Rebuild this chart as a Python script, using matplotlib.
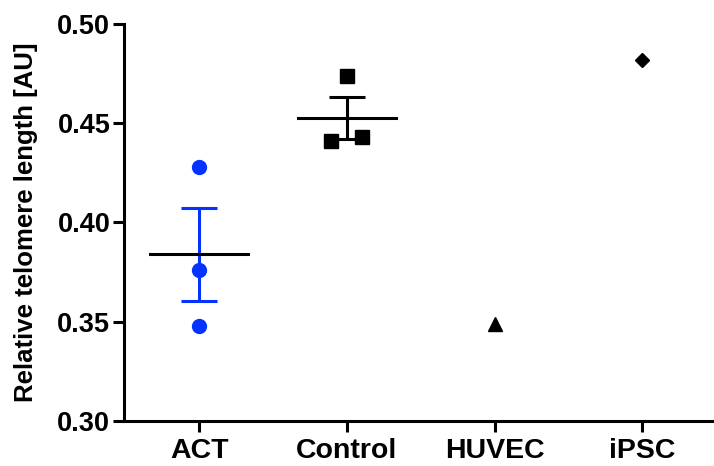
import numpy as np
import matplotlib.pyplot as plt

plt.rcParams['font.family'] = ['Liberation Sans', 'DejaVu Sans']
plt.rcParams['font.weight'] = 'bold'

# Data
groups = ['ACT', 'Control', 'HUVEC', 'iPSC']
act = [0.428, 0.376, 0.348]
control = [0.474, 0.441, 0.443]
huvec = [0.349]
ipsc = [0.482]
control_jitter = [0.0, -0.11, 0.10]

blue = '#0433FF'

fig = plt.figure(figsize=(7.14, 4.66), dpi=100)
ax = fig.add_axes([0.174, 0.0966, 0.823, 0.852])

# ACT
ax.plot([0] * len(act), act, 'o', color=blue, markersize=10, zorder=3)
m = np.mean(act)
sem = np.std(act, ddof=1) / np.sqrt(len(act))
ax.errorbar(0, m, yerr=sem, color=blue, capsize=13, capthick=2.2, elinewidth=2.2, zorder=2)
ax.plot([-0.33, 0.33], [m, m], color='black', lw=2.2, zorder=2)

# Control
ax.plot(1 + np.array(control_jitter), control, 's', color='black', markersize=9.5, zorder=3)
m = np.mean(control)
sem = np.std(control, ddof=1) / np.sqrt(len(control))
ax.errorbar(1, m, yerr=sem, color='black', capsize=13, capthick=2.2, elinewidth=2.2, zorder=2)
ax.plot([1 - 0.33, 1 + 0.33], [m, m], color='black', lw=2.2, zorder=2)

# HUVEC and iPSC
ax.plot([2] * len(huvec), huvec, '^', color='black', markersize=10, zorder=3)
ax.plot([3] * len(ipsc), ipsc, 'D', color='black', markersize=7.5, zorder=3)

ax.set_xlim(-0.507, 3.47)
ax.set_ylim(0.30, 0.50)
ax.set_yticks([0.30, 0.35, 0.40, 0.45, 0.50])
ax.set_yticklabels(['0.30', '0.35', '0.40', '0.45', '0.50'])
ax.set_xticks(range(len(groups)))
ax.set_xticklabels(groups)
ax.set_ylabel('Relative telomere length [AU]', fontsize=18.5, fontweight='bold', labelpad=14)

for s in ['top', 'right']:
    ax.spines[s].set_visible(False)
for s in ['left', 'bottom']:
    ax.spines[s].set_linewidth(2.2)
ax.tick_params(axis='both', width=2.2, length=8)
ax.tick_params(axis='y', labelsize=19.5, pad=2)
ax.tick_params(axis='x', labelsize=20.5, pad=4)
for lab in ax.get_xticklabels() + ax.get_yticklabels():
    lab.set_fontweight('bold')

fig.savefig('out.png', dpi=100)
